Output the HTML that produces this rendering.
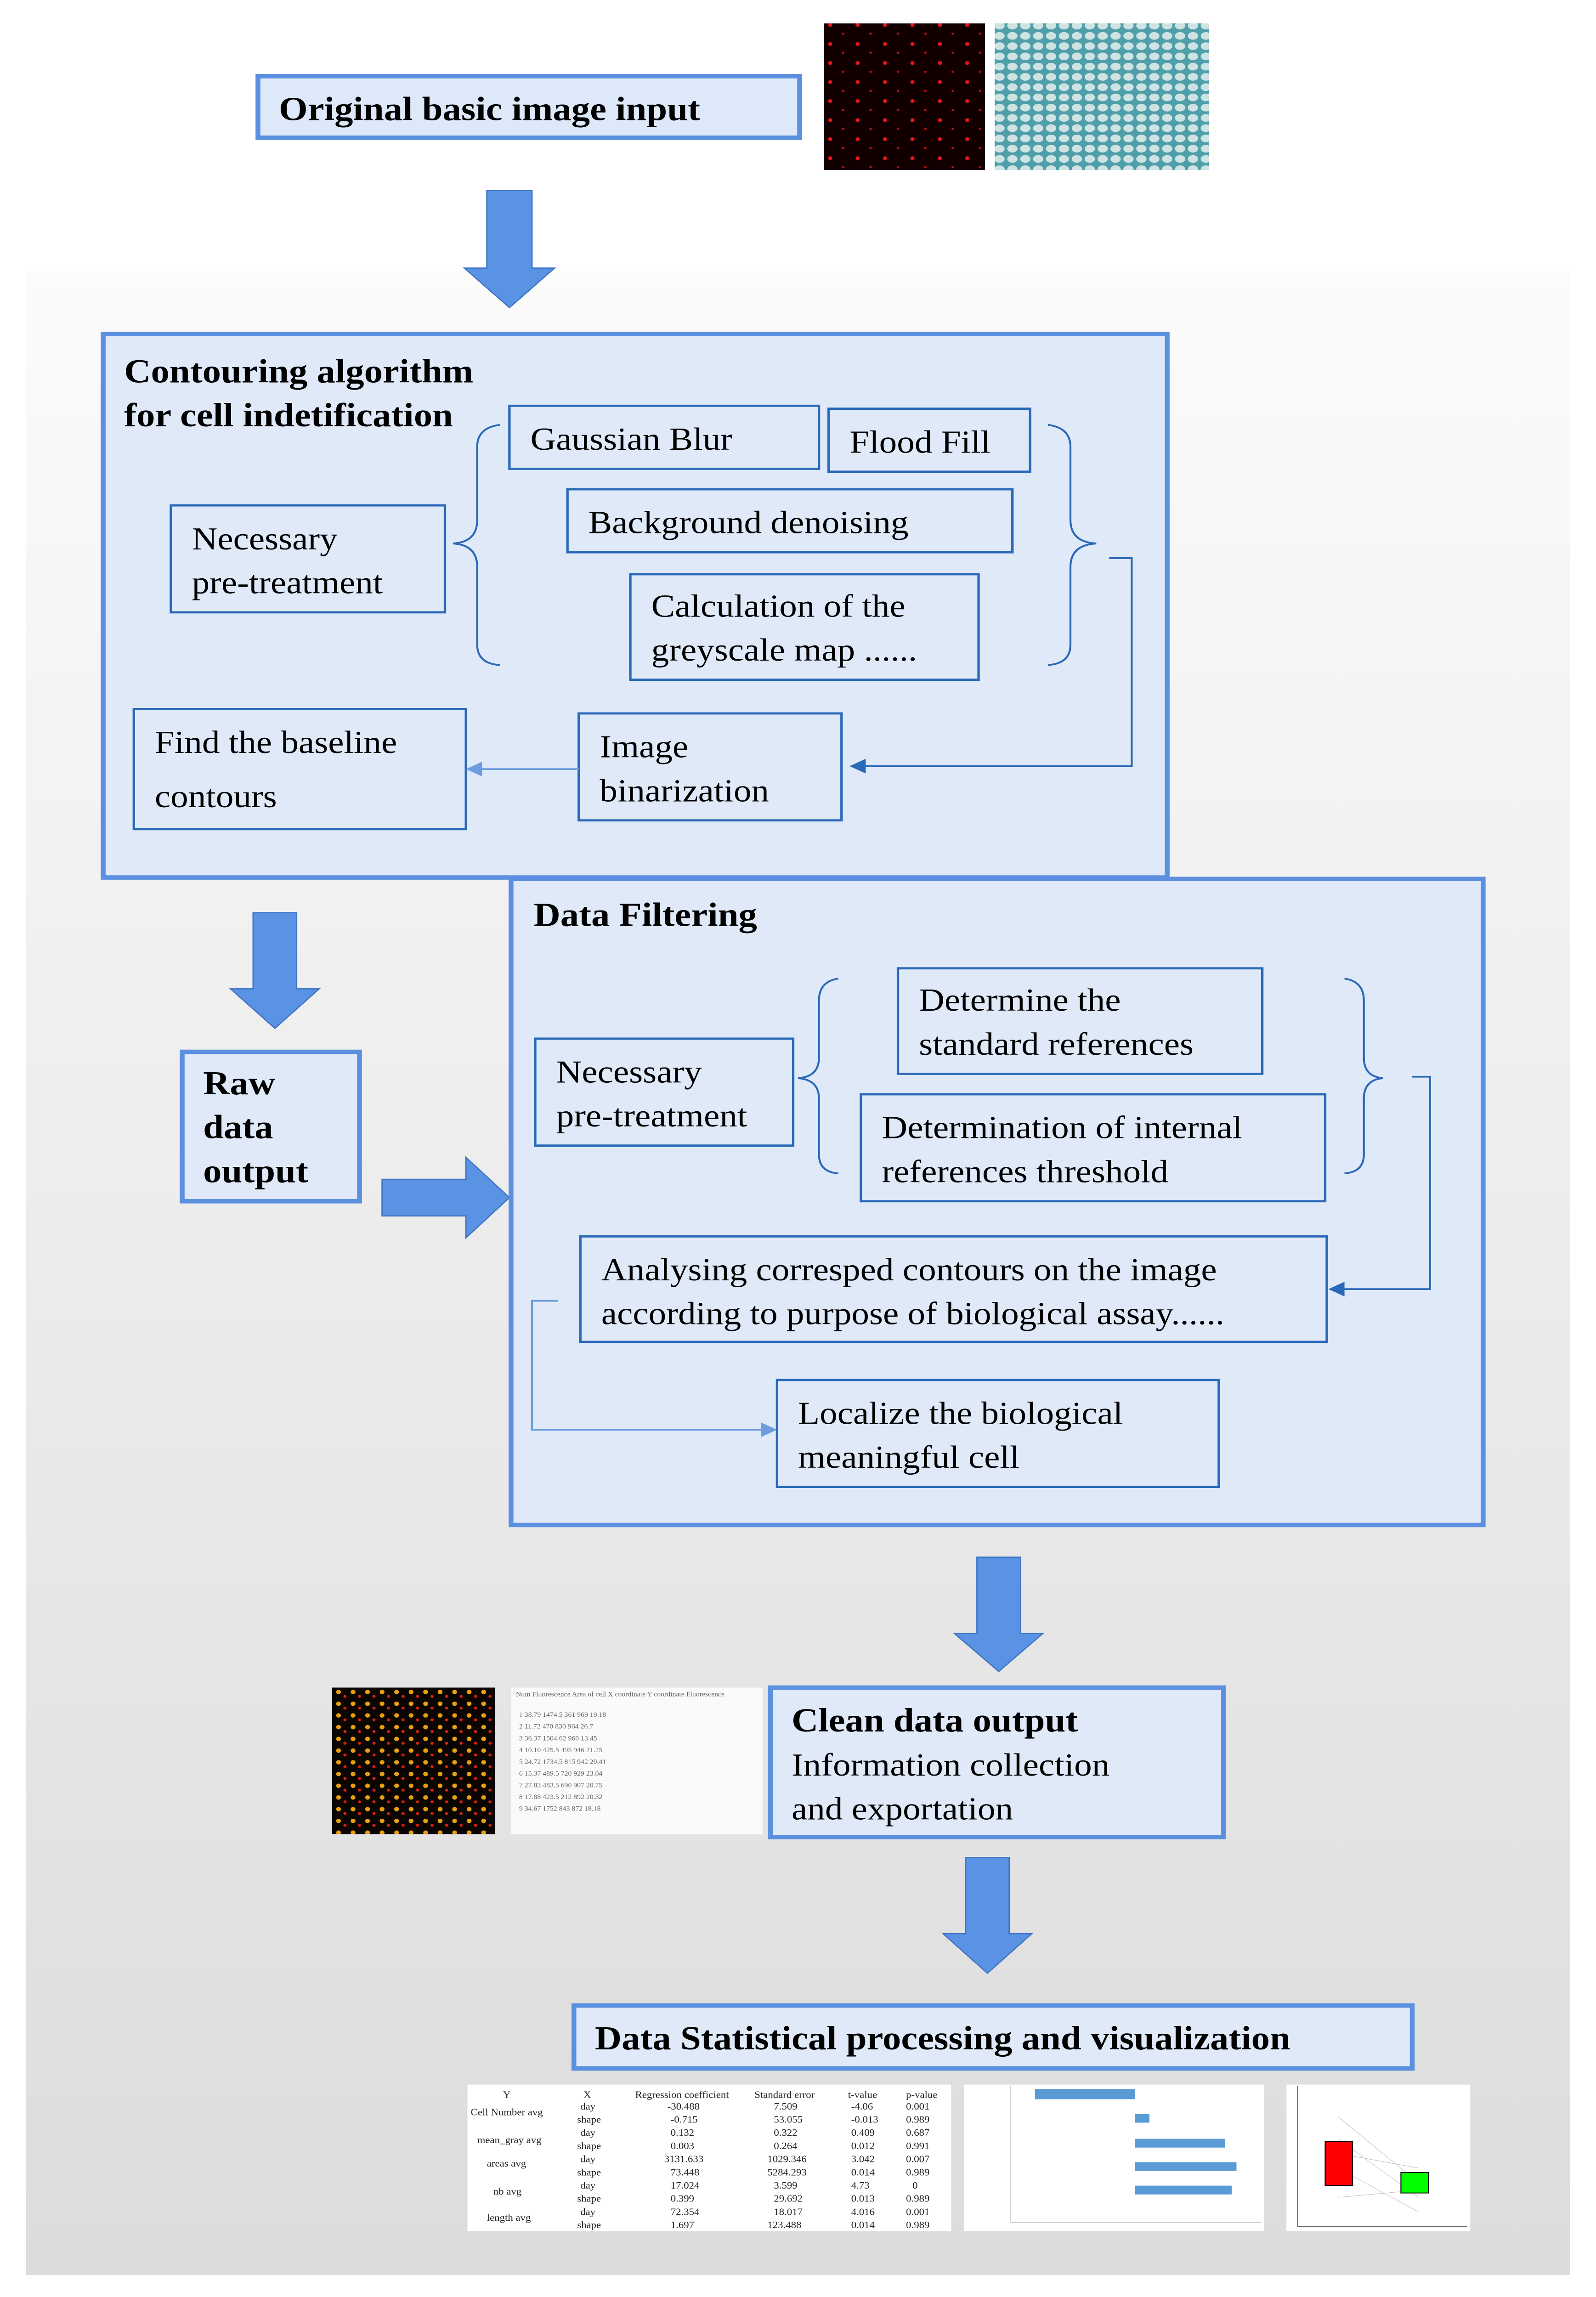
<!DOCTYPE html>
<html><head><meta charset="utf-8"><style>html,body{margin:0;padding:0;background:#fff;width:100%;height:100%;overflow:hidden}svg{display:block;position:fixed;left:0;top:0;width:100vw;height:100vh}</style></head>
<body>
<svg viewBox="0 0 990 1568" preserveAspectRatio="none" xmlns="http://www.w3.org/2000/svg" font-family="Liberation Serif, serif">
<defs>
<linearGradient id="bg" x1="0" y1="0" x2="0" y2="1">
<stop offset="0" stop-color="#fbfbfb"/><stop offset="1" stop-color="#dcdcdc"/></linearGradient>
<pattern id="teal" width="8" height="7" patternUnits="userSpaceOnUse">
<rect width="8" height="7" fill="#4f9faa"/><ellipse cx="4" cy="3.5" rx="3.2" ry="2.6" fill="#cfe3e3"/></pattern>
<pattern id="red" width="17" height="13" patternUnits="userSpaceOnUse">
<rect width="17" height="13" fill="#120000"/><circle cx="5" cy="4" r="1.3" fill="#e01818"/><circle cx="13" cy="10" r="0.8" fill="#b01010"/></pattern>
<pattern id="yel" width="9" height="8" patternUnits="userSpaceOnUse">
<rect width="9" height="8" fill="#0a0500"/><circle cx="3" cy="3" r="1.5" fill="#e8a010"/><circle cx="7" cy="6" r="1" fill="#d82010"/></pattern>
</defs>
<rect x="16" y="185" width="958" height="1368" fill="url(#bg)"/>

<g fill="#5b93e4" stroke="#3f74c4" stroke-width="0.8">
<path d="M302 130H330V183H344L316 210L288 183H302Z"/>
<path d="M157 623H184V675H198L170.5 702L143 675H157Z"/>
<path d="M237 805H289V790L316 817.5L289 845V830H237Z"/>
<path d="M606 1063H633V1115H647L619.5 1141L592 1115H606Z"/>
<path d="M599 1268H626V1320H640L612.5 1347L585 1320H599Z"/>
</g>

<rect x="160" y="52" width="336" height="42" fill="#dde8f8" stroke="#5b8fe0" stroke-width="3"/>
<text x="173" y="82" font-size="23" font-weight="bold">Original basic image input</text>
<rect x="511" y="16" width="100" height="100" fill="url(#red)"/>
<rect x="617" y="16" width="133" height="100" fill="url(#teal)"/>

<rect x="64" y="228" width="660" height="371" fill="#dfe9f8" stroke="#5b8fe0" stroke-width="3"/>
<text font-size="23" font-weight="bold"><tspan x="77" y="261">Contouring algorithm</tspan><tspan x="77" y="291">for cell indetification</tspan></text>
<g fill="none" stroke="#2a68b8" stroke-width="1.5">
<rect x="316" y="277" width="192" height="43"/>
<rect x="514" y="279" width="125" height="43"/>
<rect x="352" y="334" width="276" height="43"/>
<rect x="391" y="392" width="216" height="72"/>
<rect x="106" y="345" width="170" height="73"/>
<rect x="83" y="484" width="206" height="82"/>
<rect x="359" y="487" width="163" height="73"/>
</g>
<g font-size="22">
<text x="329" y="307">Gaussian Blur</text>
<text x="527" y="309">Flood Fill</text>
<text x="365" y="364">Background denoising</text>
<text x="404" y="421">Calculation of the</text>
<text x="404" y="451">greyscale map ......</text>
<text x="119" y="375">Necessary</text>
<text x="119" y="405">pre-treatment</text>
<text x="96" y="514">Find the baseline</text>
<text x="96" y="551">contours</text>
<text x="372" y="517">Image</text>
<text x="372" y="547">binarization</text>
</g>
<g fill="none" stroke="#2a68b8" stroke-width="1.2">
<path d="M310 290Q296 292 296 305V355Q296 370 281 371Q296 372 296 387V440Q296 453 310 454"/>
<path d="M650 290Q664 292 664 305V355Q664 370 680 371Q664 372 664 387V440Q664 453 650 454"/>
<path d="M688 381H702V523H536"/>
<path d="M359 525H298" stroke="#6d9ddf"/>
</g>
<path d="M527 523L537 518V528Z" fill="#2a68b8"/>
<path d="M289 525L299 520V530Z" fill="#6d9ddf"/>

<rect x="113" y="718" width="110" height="102" fill="#dfe9f8" stroke="#5b8fe0" stroke-width="3"/>
<text font-size="23" font-weight="bold"><tspan x="126" y="747">Raw</tspan><tspan x="126" y="777">data</tspan><tspan x="126" y="807">output</tspan></text>

<rect x="317" y="600" width="603" height="441" fill="#dfe9f8" stroke="#5b8fe0" stroke-width="3"/>
<text x="331" y="632" font-size="23" font-weight="bold">Data Filtering</text>
<g fill="none" stroke="#2a68b8" stroke-width="1.5">
<rect x="332" y="709" width="160" height="73"/>
<rect x="557" y="661" width="226" height="72"/>
<rect x="534" y="747" width="288" height="73"/>
<rect x="360" y="844" width="463" height="72"/>
<rect x="482" y="942" width="274" height="73"/>
</g>
<g font-size="22">
<text x="345" y="739">Necessary</text>
<text x="345" y="769">pre-treatment</text>
<text x="570" y="690">Determine  the</text>
<text x="570" y="720">standard references</text>
<text x="547" y="777">Determination of internal</text>
<text x="547" y="807">references threshold</text>
<text x="373" y="874">Analysing corresped contours on the image</text>
<text x="373" y="904">according to purpose of biological assay......</text>
<text x="495" y="972">Localize the biological</text>
<text x="495" y="1002">meaningful  cell</text>
</g>
<g fill="none" stroke="#2a68b8" stroke-width="1.2">
<path d="M520 668Q508 670 508 683V722Q508 735 495 736Q508 737 508 750V788Q508 800 520 801"/>
<path d="M834 668Q846 670 846 683V722Q846 735 858 736Q846 737 846 750V788Q846 800 834 801"/>
<path d="M876 735H887V880H834"/>
<path d="M346 888H330V976H474" stroke="#6d9ddf"/>
</g>
<path d="M824 880L834 875V885Z" fill="#2a68b8"/>
<path d="M482 976L472 971V981Z" fill="#6d9ddf"/>

<rect x="206" y="1152" width="101" height="100" fill="url(#yel)"/>
<rect x="317" y="1152" width="156" height="100" fill="#fafafa"/>
<g font-size="4.5" fill="#666">
<text x="320" y="1158">Num  Fluorescence  Area of cell X coordinate Y coordinate Fluorescence</text>
<text x="322" y="1172">1  38.79  1474.5  361  969  19.18</text>
<text x="322" y="1180">2  11.72  470  830  964  26.7</text>
<text x="322" y="1188">3  36.37  1504  62  960  13.45</text>
<text x="322" y="1196">4  10.10  425.5  495  946  21.25</text>
<text x="322" y="1204">5  24.72  1734.5  815  942  20.41</text>
<text x="322" y="1212">6  15.37  489.5  720  929  23.04</text>
<text x="322" y="1220">7  27.83  483.5  690  907  20.75</text>
<text x="322" y="1228">8  17.88  423.5  212  892  20.32</text>
<text x="322" y="1236">9  34.67  1752  843  872  18.18</text>
</g>
<rect x="478" y="1152" width="281" height="102" fill="#dfe9f8" stroke="#5b8fe0" stroke-width="3"/>
<text x="491" y="1182" font-size="23" font-weight="bold">Clean data output</text>
<text x="491" y="1212" font-size="22">Information collection</text>
<text x="491" y="1242" font-size="22">and exportation</text>

<rect x="356" y="1369" width="520" height="43" fill="#dfe9f8" stroke="#5b8fe0" stroke-width="3"/>
<text x="369" y="1399" font-size="23" font-weight="bold">Data Statistical  processing and visualization</text>

<rect x="290" y="1423" width="300" height="100" fill="#fff"/>
<g font-size="6.5" fill="#222">
<text x="312" y="1432">Y</text><text x="362" y="1432">X</text><text x="394" y="1432">Regression coefficient</text><text x="468" y="1432">Standard error</text><text x="526" y="1432">t-value</text><text x="562" y="1432">p-value</text>
<text x="292" y="1444">Cell Number avg</text><text x="296" y="1463">mean_gray avg</text><text x="302" y="1479">areas avg</text><text x="306" y="1498">nb avg</text><text x="302" y="1516">length avg</text>
<text x="360" y="1440">day</text><text x="414" y="1440">-30.488</text><text x="480" y="1440">7.509</text><text x="528" y="1440">-4.06</text><text x="562" y="1440">0.001</text>
<text x="358" y="1449">shape</text><text x="416" y="1449">-0.715</text><text x="480" y="1449">53.055</text><text x="528" y="1449">-0.013</text><text x="562" y="1449">0.989</text>
<text x="360" y="1458">day</text><text x="416" y="1458">0.132</text><text x="480" y="1458">0.322</text><text x="528" y="1458">0.409</text><text x="562" y="1458">0.687</text>
<text x="358" y="1467">shape</text><text x="416" y="1467">0.003</text><text x="480" y="1467">0.264</text><text x="528" y="1467">0.012</text><text x="562" y="1467">0.991</text>
<text x="360" y="1476">day</text><text x="412" y="1476">3131.633</text><text x="476" y="1476">1029.346</text><text x="528" y="1476">3.042</text><text x="562" y="1476">0.007</text>
<text x="358" y="1485">shape</text><text x="416" y="1485">73.448</text><text x="476" y="1485">5284.293</text><text x="528" y="1485">0.014</text><text x="562" y="1485">0.989</text>
<text x="360" y="1494">day</text><text x="416" y="1494">17.024</text><text x="480" y="1494">3.599</text><text x="528" y="1494">4.73</text><text x="566" y="1494">0</text>
<text x="358" y="1503">shape</text><text x="416" y="1503">0.399</text><text x="480" y="1503">29.692</text><text x="528" y="1503">0.013</text><text x="562" y="1503">0.989</text>
<text x="360" y="1512">day</text><text x="416" y="1512">72.354</text><text x="480" y="1512">18.017</text><text x="528" y="1512">4.016</text><text x="562" y="1512">0.001</text>
<text x="358" y="1521">shape</text><text x="416" y="1521">1.697</text><text x="476" y="1521">123.488</text><text x="528" y="1521">0.014</text><text x="562" y="1521">0.989</text>
</g>
<rect x="598" y="1423" width="186" height="100" fill="#fff"/>
<g fill="#5b9bd5"><rect x="642" y="1426" width="62" height="7"/><rect x="704" y="1443" width="9" height="6"/><rect x="704" y="1460" width="56" height="6"/><rect x="704" y="1476" width="63" height="6"/><rect x="704" y="1492" width="60" height="6"/></g>
<path d="M627 1424V1517H782" stroke="#bbb" stroke-width="0.5" fill="none"/>
<rect x="798" y="1423" width="114" height="100" fill="#fff"/>
<g stroke="#bbb" stroke-width="0.3"><path d="M830 1445L880 1490M830 1460L880 1500M830 1470L880 1480M830 1480L880 1510M830 1500L880 1495"/></g>
<path d="M805 1424V1520H910" stroke="#555" stroke-width="0.5" fill="none"/>
<rect x="822" y="1462" width="17" height="30" fill="#f00" stroke="#000" stroke-width="0.6"/>
<rect x="869" y="1483" width="17" height="14" fill="#0f0" stroke="#000" stroke-width="0.6"/>
</svg>
</body></html>
